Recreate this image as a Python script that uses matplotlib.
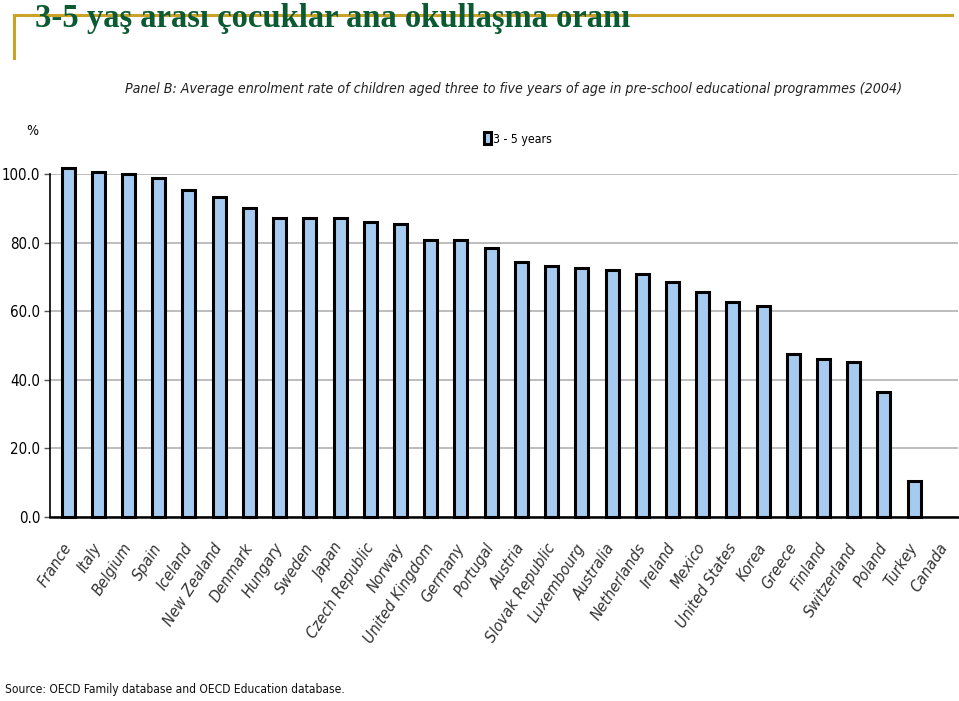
import matplotlib
matplotlib.use("Agg")
import matplotlib.pyplot as plt
from matplotlib.lines import Line2D
from matplotlib import font_manager as fm
import numpy as np

countries = ["France", "Italy", "Belgium", "Spain", "Iceland", "New Zealand", "Denmark",
             "Hungary", "Sweden", "Japan", "Czech Republic", "Norway", "United Kingdom",
             "Germany", "Portugal", "Austria", "Slovak Republic", "Luxembourg", "Australia",
             "Netherlands", "Ireland", "Mexico", "United States", "Korea", "Greece",
             "Finland", "Switzerland", "Poland", "Turkey", "Canada"]
rates = [101.8, 100.6, 100.0, 98.8, 95.3, 93.2, 90.2, 87.2, 87.2, 87.3, 86.0, 85.4,
         80.7, 80.7, 78.4, 74.3, 73.2, 72.6, 72.0, 70.8, 68.5, 65.6, 62.7, 61.5,
         47.5, 46.1, 45.2, 36.4, 10.5, np.nan]
yticks = [0, 20, 40, 60, 80, 100]
series_label = "3 - 5 years"

# choose a narrow font if one exists
entries = fm.fontManager.ttflist
names = {f.name for f in entries}
if 'Liberation Sans Narrow' in names:
    NF = dict(family=['Liberation Sans Narrow', 'DejaVu Sans'])
    k = 1.0
elif any(f.name == 'DejaVu Sans' and str(f.stretch) in ('condensed', '87.5', 'semi-condensed') for f in entries):
    NF = dict(family=['DejaVu Sans'], stretch='condensed')
    k = 0.92
else:
    NF = dict(family=['Liberation Sans', 'DejaVu Sans'])
    k = 0.86


def nf(size, **kw):
    d = dict(NF)
    d['size'] = size * k
    d.update(kw)
    return fm.FontProperties(**d)


fig = plt.figure(figsize=(9.59, 7.01), dpi=100)
ax = fig.add_axes([50/959, 1-517/701, (958-50)/959, (517-174)/701])

x = np.arange(len(countries))
ax.bar(x, rates, width=0.43, color='#A6CAF0', edgecolor='black',
       linewidth=2.2, clip_on=False, label=series_label, zorder=3)

ax.set_xlim(-0.6, len(countries) - 0.55)
ax.set_ylim(0, 100)
ax.set_yticks(yticks)
ax.set_yticklabels([f"{v:.1f}" for v in yticks], fontproperties=nf(11.8))
ax.yaxis.grid(True, color='#BDBDBD', linewidth=1.4, zorder=0)
ax.set_axisbelow(True)
ax.tick_params(axis='y', length=4, width=1, color='#555555', pad=3)
ax.tick_params(axis='x', length=0, pad=20)
ax.set_xticks(x)
ax.set_xticklabels(countries, rotation=57, ha='right', va='center', rotation_mode='anchor',
                   fontproperties=nf(12.5, style='italic'), color='#333333')
for s in ['top', 'right']:
    ax.spines[s].set_visible(False)
ax.spines['left'].set_linewidth(1.2)
ax.spines['bottom'].set_linewidth(1.8)

fig.text(0.5 * (125 + 903) / 959, 1 - 89/701,
         "Panel B: Average enrolment rate of children aged three to five years of age in pre-school educational programmes (2004)",
         ha='center', va='center', fontproperties=nf(11.1, style='italic'), color='#222222')
fig.text(32/959, 1 - 131/701, "%", ha='center', va='center', fontproperties=nf(11))

ax.legend(loc='center left', bbox_to_anchor=(473/959, 1 - 139/701), bbox_transform=fig.transFigure,
          frameon=False, handlelength=0.55, handleheight=1.1, handletextpad=0.15,
          prop=nf(9.6))

fig.text(5/959, 1 - 689/701, "Source: OECD Family database and OECD Education database.",
         ha='left', va='center', fontproperties=nf(9.4), color='#111111')

# title decoration
gold = '#C9A227'
fig.add_artist(Line2D([14/959, 952/959], [1 - 15/701, 1 - 15/701], color=gold, linewidth=2.2))
fig.add_artist(Line2D([14/959, 14/959], [1 - 15/701, 1 - 58/701], color=gold, linewidth=2.2))
fig.text(35/959, 1 - 18/701, "3-5 yaş arası çocuklar ana okullaşma oranı",
         ha='left', va='center', fontsize=23.5, fontweight='bold',
         fontfamily=['Liberation Serif', 'DejaVu Serif'], color='#0B5A33')

fig.savefig("out.png", dpi=100)
